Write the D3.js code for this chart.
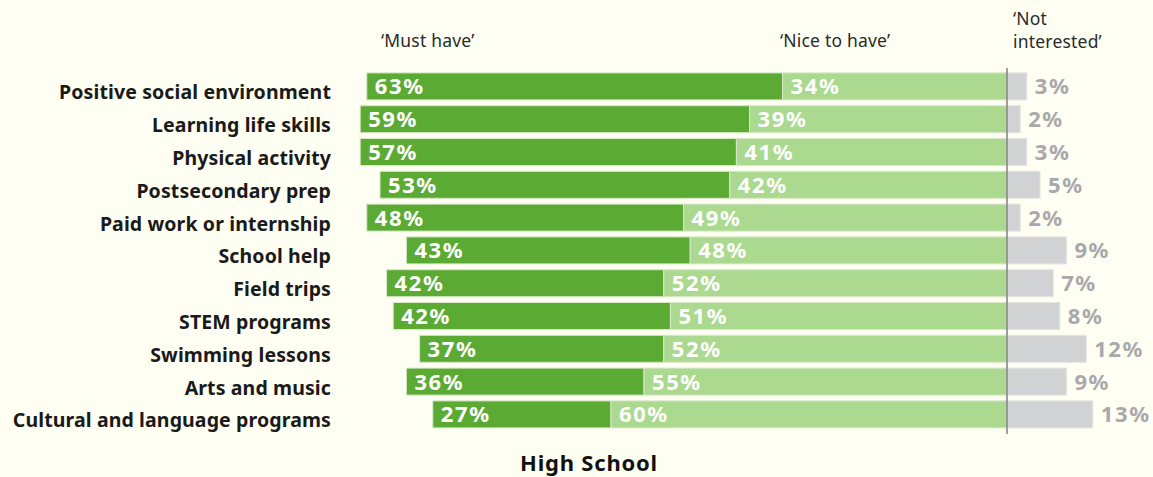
<!DOCTYPE html>
<html>
<head>
<meta charset="utf-8">
<script src="https://cdn.jsdelivr.net/npm/d3@7"></script>
<style>
  html, body { margin: 0; padding: 0; background: #fefef3; }
  svg { display: block; font-family: "Noto Sans", Lato, sans-serif; }
</style>
</head>
<body>
<div id="chart"></div>
<script>
const categories = [
  "Positive social environment",
  "Learning life skills",
  "Physical activity",
  "Postsecondary prep",
  "Paid work or internship",
  "School help",
  "Field trips",
  "STEM programs",
  "Swimming lessons",
  "Arts and music",
  "Cultural and language programs"
];
const mustHave      = [63, 59, 57, 53, 48, 43, 42, 42, 37, 36, 27];
const niceToHave    = [34, 39, 41, 42, 49, 48, 52, 51, 52, 55, 60];
const notInterested = [3, 2, 3, 5, 2, 9, 7, 8, 12, 9, 13];
const seriesLabels = ["\u2018Must have\u2019", "\u2018Nice to have\u2019", "\u2018Not", "interested\u2019"];
const title = "High School";

const width = 1153;
const height = 477;

const data = categories.map((c, i) => ({
  name: c, must: mustHave[i], nice: niceToHave[i], not: notInterested[i]
}));

const x = d3.scaleLinear()
  .domain([-100, 20])
  .range([1007 - 660, 1007 + 132]);

const y = d3.scaleBand()
  .domain(categories)
  .range([70, 70 + 11 * 32.8])
  .paddingInner(0.177)
  .paddingOuter(0.0885);

const svg = d3.select('#chart').append('svg')
  .attr('width', width)
  .attr('height', height);

svg.append('rect').attr('width', width).attr('height', height).attr('fill', '#fefef3');

// bars
const rows = svg.append('g').selectAll('g').data(data).enter().append('g');

rows.append('rect')
  .attr('x', d => x(-(d.must + d.nice)))
  .attr('y', d => y(d.name))
  .attr('width', d => x(-d.nice) - x(-(d.must + d.nice)))
  .attr('height', y.bandwidth())
  .attr('fill', '#5aaa33')
  .attr('stroke', '#d8e8c8').attr('stroke-width', 1);

rows.append('rect')
  .attr('x', d => x(-d.nice))
  .attr('y', d => y(d.name))
  .attr('width', d => x(0) - x(-d.nice))
  .attr('height', y.bandwidth())
  .attr('fill', '#aad98f')
  .attr('stroke', '#d8e8c8').attr('stroke-width', 1);

rows.append('rect')
  .attr('x', x(0))
  .attr('y', d => y(d.name))
  .attr('width', d => x(d.not) - x(0))
  .attr('height', y.bandwidth())
  .attr('fill', '#d1d2d3')
  .attr('stroke', '#e4e4e0').attr('stroke-width', 1);

// value labels
const valStyle = s => s
  .attr('y', d => y(d.name) + y.bandwidth() / 2)
  .attr('dy', '0.36em')
  .attr('font-size', 22)
  .attr('letter-spacing', 1.6)
  .attr('font-weight', 700);

rows.append('text').call(valStyle)
  .attr('x', d => x(-(d.must + d.nice)) + 8)
  .attr('fill', '#ffffff')
  .text(d => d.must + '%');

rows.append('text').call(valStyle)
  .attr('x', d => x(-d.nice) + 8)
  .attr('fill', '#ffffff')
  .text(d => d.nice + '%');

rows.append('text').call(valStyle)
  .attr('x', d => x(d.not) + 8)
  .attr('fill', '#a9a9ab')
  .text(d => d.not + '%');

// category labels
rows.append('text')
  .attr('x', 331)
  .attr('y', d => y(d.name) + y.bandwidth() / 2 + 6)
  .attr('dy', '0.36em')
  .attr('text-anchor', 'end')
  .attr('font-size', 19.5)
  .attr('letter-spacing', 0.12)
  .attr('font-weight', 700)
  .attr('fill', '#1a1a1a')
  .text(d => d.name);

// zero line
svg.append('line')
  .attr('x1', x(0)).attr('x2', x(0))
  .attr('y1', 68).attr('y2', 434)
  .attr('stroke', '#808080').attr('stroke-width', 1.5);

// series headers
const head = svg.append('g')
  .attr('font-size', 17.5)
  .attr('letter-spacing', 0.2)
  .attr('fill', '#2a2a2a');
head.append('text').attr('x', 381).attr('y', 47).text(seriesLabels[0]);
head.append('text').attr('x', 780).attr('y', 47).text(seriesLabels[1]);
head.append('text').attr('x', 1013).attr('y', 25).text(seriesLabels[2]);
head.append('text').attr('x', 1013).attr('y', 48).text(seriesLabels[3]);

// title
svg.append('text')
  .attr('x', 589)
  .attr('y', 471)
  .attr('text-anchor', 'middle')
  .attr('font-size', 22)
  .attr('letter-spacing', 0.8)
  .attr('font-weight', 700)
  .attr('fill', '#111111')
  .text(title);
</script>
</body>
</html>
